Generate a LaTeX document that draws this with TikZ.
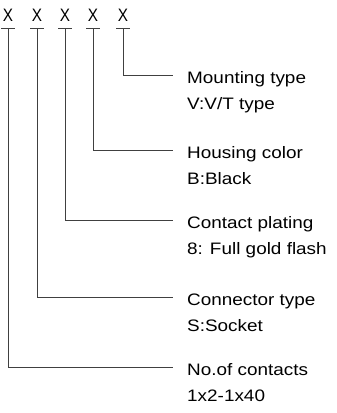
\documentclass[tikz,border=0pt]{standalone}
\usepackage{fontspec}
\setmainfont[FakeStretch=1.14]{Liberation Sans}
\newfontfamily\codefont[FakeStretch=0.85]{Liberation Sans}
\tikzset{
  lead/.style={draw=black!75, line width=0.9pt},
  title/.style={anchor=west, inner xsep=14pt, inner ysep=0pt, text height=18pt, text depth=2pt, font=\fontsize{16.6}{18}\selectfont},
  sub/.style={anchor=base west, inner xsep=14pt, inner ysep=0pt, font=\fontsize{16.6}{18}\selectfont},
  code/.style={inner sep=0pt, font=\codefont\fontsize{18}{18}\selectfont}
}

\begin{document}
\begin{tikzpicture}[x=1pt,y=-1pt]
\useasboundingbox (0,0) rectangle (337,413);

% part number letters with their bars
\foreach \n/\xx in {1/8,2/37,3/65,4/93,5/123}{
  \node[code] (x\n) at (\xx,15) {X};
  \coordinate (b\n) at (\xx,28);
  \draw[lead] ([xshift=-7pt]b\n) -- ([xshift=7pt]b\n);
}

% fields
\node[title] (t5) at (173,75) {Mounting type};
\node[sub] (s5) at ([yshift=-26pt]t5.base west) {V:V/T type};

\node[title] (t4) at (173,150) {Housing color};
\node[sub] (s4) at ([yshift=-26pt]t4.base west) {B:Black};

\node[title] (t3) at (173,220) {Contact plating};
\node[sub] (s3) at ([yshift=-26pt]t3.base west) {8: Full gold flash};

\node[title] (t2) at (173,297) {Connector type};
\node[sub] (s2) at ([yshift=-26pt]t2.base west) {S:Socket};

\node[title] (t1) at (173,367) {No.of contacts};
\node[sub] (s1) at ([yshift=-26pt]t1.base west) {1x2-1x40};

% leaders
\foreach \n in {1,...,5}
  \draw[lead] (b\n) |- (t\n.west);

\end{tikzpicture}
\end{document}
